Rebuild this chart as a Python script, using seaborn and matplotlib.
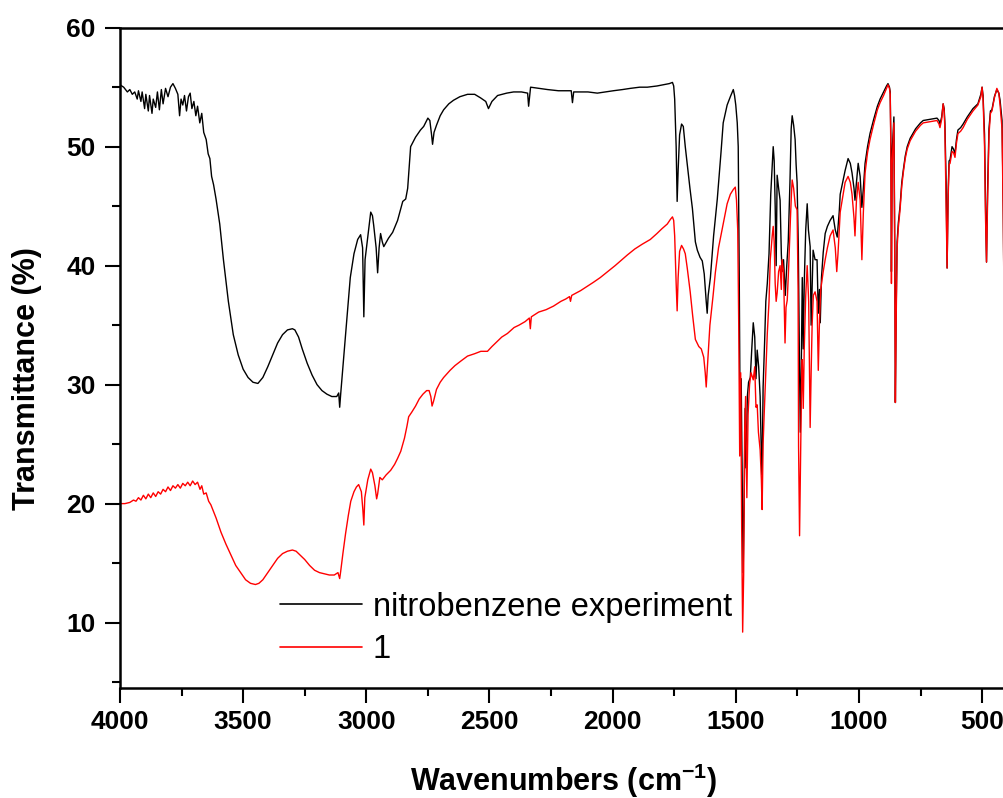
import matplotlib
matplotlib.use("Agg")
import matplotlib.pyplot as plt
from matplotlib.ticker import MultipleLocator
from matplotlib.lines import Line2D
import pandas as pd
import seaborn as sns

# FT-IR spectrum of nitrobenzene (reference measurement)
wn_ref = [4000, 3985, 3970, 3960, 3950, 3940, 3930, 3925, 3915, 3910, 3900, 3895, 3885, 3880,
          3870, 3865, 3855, 3848, 3840, 3832, 3825, 3815, 3805, 3795, 3785, 3775, 3765, 3758,
          3752, 3745, 3738, 3730, 3722, 3715, 3708, 3700, 3692, 3685, 3676, 3668, 3660, 3650,
          3642, 3635, 3628, 3620, 3610, 3595, 3580, 3560, 3540, 3520, 3500, 3480, 3460, 3440,
          3420, 3400, 3380, 3360, 3340, 3320, 3300, 3290, 3275, 3260, 3240, 3220, 3200, 3180,
          3160, 3140, 3120, 3112, 3108, 3104, 3095, 3085, 3075, 3065, 3050, 3035, 3023, 3015,
          3010, 3005, 2994, 2982, 2975, 2970, 2960, 2954, 2948, 2942, 2935, 2929, 2910, 2893,
          2873, 2860, 2852, 2840, 2832, 2825, 2820, 2800, 2780, 2767, 2750, 2742, 2735, 2731,
          2725, 2715, 2700, 2686, 2665, 2646, 2620, 2589, 2560, 2536, 2515, 2504, 2490, 2467,
          2430, 2402, 2370, 2345, 2341, 2336, 2333, 2300, 2264, 2220, 2168, 2163, 2158, 2100,
          2062, 2030, 1997, 1960, 1928, 1890, 1859, 1820, 1794, 1770, 1757, 1752, 1748, 1742,
          1738, 1734, 1728, 1720, 1713, 1705, 1697, 1686, 1676, 1664, 1656, 1645, 1636, 1628,
          1620, 1616, 1612, 1603, 1590, 1575, 1560, 1551, 1535, 1522, 1510, 1505, 1500, 1494,
          1490, 1486, 1482, 1478, 1474, 1470, 1466, 1462, 1458, 1453, 1448, 1441, 1435, 1429,
          1423, 1418, 1413, 1407, 1401, 1397, 1393, 1389, 1383, 1378, 1372, 1365, 1358, 1352,
          1348, 1344, 1340, 1336, 1332, 1326, 1320, 1315, 1312, 1306, 1299, 1293, 1287, 1280,
          1275, 1271, 1265, 1259, 1255, 1251, 1246, 1242, 1238, 1234, 1230, 1226, 1222, 1216,
          1210, 1205, 1198, 1194, 1190, 1186, 1178, 1170, 1165, 1160, 1157, 1152, 1145, 1137,
          1128, 1117, 1105, 1096, 1088, 1080, 1076, 1068, 1056, 1044, 1035, 1028, 1020, 1016,
          1010, 1003, 995, 988, 982, 975, 965, 955, 940, 925, 914, 900, 888, 882, 876, 873,
          870, 868, 865, 858, 854, 852, 849, 845, 840, 833, 826, 820, 812, 804, 792, 770, 750,
          739, 710, 683, 675, 671, 664, 658, 654, 651, 646, 642, 638, 634, 630, 622, 616, 610,
          604, 598, 587, 577, 560, 537, 517, 505, 500, 496, 490, 486, 482, 478, 472, 466, 460,
          450, 440, 432, 427, 419, 414, 411, 404]
t_ref = [55.2, 55.0, 54.6, 54.8, 54.4, 54.6, 54.0, 54.7, 53.8, 54.6, 53.2, 54.4, 53.0, 54.3,
         52.8, 54.0, 53.3, 54.6, 53.1, 54.8, 53.6, 54.9, 54.2, 55.0, 55.3, 54.9, 54.4, 52.6,
         54.0, 53.5, 54.3, 53.0, 54.2, 54.5, 53.2, 53.8, 52.6, 53.4, 52.0, 52.8, 51.2, 50.6,
         49.4, 49.0, 47.5, 46.8, 45.6, 43.5, 40.5, 37.0, 34.2, 32.5, 31.3, 30.6, 30.2, 30.1,
         30.6, 31.5, 32.5, 33.5, 34.2, 34.6, 34.7, 34.6, 34.0, 33.0, 31.8, 30.8, 30.0, 29.5,
         29.2, 29.0, 29.0, 29.3, 28.1, 29.2, 31.5, 34.0, 36.5, 39.0, 41.0, 42.2, 42.6, 41.5,
         35.7, 40.5, 42.4, 44.5, 44.2, 43.4, 41.5, 39.4, 41.5, 42.7, 42.0, 41.6, 42.3, 42.8,
         43.8, 44.8, 45.4, 45.6, 46.5, 48.5, 50.0, 50.8, 51.4, 51.7, 52.4, 52.2, 51.0, 50.2,
         51.2, 51.8, 52.6, 53.1, 53.6, 53.9, 54.2, 54.4, 54.4, 54.1, 53.8, 53.2, 53.8, 54.3,
         54.5, 54.6, 54.6, 54.5, 53.4, 54.4, 55.0, 54.9, 54.8, 54.7, 54.7, 53.7, 54.6, 54.6,
         54.5, 54.6, 54.7, 54.8, 54.9, 55.0, 55.0, 55.1, 55.2, 55.3, 55.4, 55.1, 54.0, 50.0,
         45.4, 48.0, 51.0, 51.9, 51.7, 50.0, 48.5, 46.5, 44.8, 42.0, 41.3, 40.7, 40.4, 39.3,
         37.0, 36.0, 37.5, 39.0, 42.5, 45.6, 49.5, 52.0, 53.5, 54.2, 54.8, 54.3, 53.5, 52.0,
         50.0, 39.5, 26.0, 30.5, 22.0, 14.2, 20.0, 28.0, 23.0, 29.0, 30.2, 30.6, 33.0, 35.2,
         34.0, 30.5, 32.9, 31.5, 29.0, 25.0, 22.4, 29.8, 33.5, 37.0, 38.5, 41.0, 46.0, 48.5,
         50.0, 48.8, 45.0, 40.0, 47.6, 46.5, 45.5, 41.0, 39.5, 40.5, 37.5, 40.0, 42.0, 47.0,
         51.5, 52.6, 51.8, 50.6, 48.5, 47.0, 41.5, 33.0, 26.0, 31.5, 39.0, 33.0, 38.5, 43.0,
         45.2, 43.0, 41.6, 35.0, 38.0, 41.3, 40.5, 40.5, 36.0, 38.0, 35.2, 39.0, 41.1, 42.7,
         43.3, 43.8, 44.2, 43.0, 42.4, 44.5, 46.0, 46.8, 48.0, 49.0, 48.6, 47.8, 46.5, 45.5,
         47.0, 48.6, 47.5, 44.9, 46.5, 48.6, 50.0, 51.1, 52.3, 53.4, 54.0, 54.6, 55.1, 55.3,
         55.0, 54.6, 50.0, 39.5, 49.5, 52.5, 40.0, 28.5, 36.0, 42.0, 43.6, 45.0, 47.0, 48.0,
         49.2, 50.0, 50.7, 51.5, 52.0, 52.2, 52.3, 52.4, 52.2, 51.9, 52.5, 53.6, 53.2, 52.0,
         47.0, 39.8, 46.0, 48.8, 48.9, 50.0, 49.8, 49.4, 50.6, 51.4, 51.6, 51.9, 52.5, 53.2,
         53.6, 54.4, 55.0, 54.3, 51.0, 45.0, 40.3, 46.0, 51.5, 53.0, 53.1, 54.2, 54.8, 54.5,
         53.9, 52.2, 45.0, 37.0, 36.5]

# FT-IR spectrum of compound 1
wn_1 = [4000, 3980, 3960, 3945, 3935, 3925, 3915, 3905, 3895, 3885, 3875, 3865, 3855, 3845,
        3835, 3825, 3815, 3805, 3795, 3785, 3775, 3765, 3755, 3745, 3735, 3725, 3715, 3705,
        3695, 3685, 3675, 3668, 3660, 3650, 3640, 3631, 3610, 3590, 3570, 3550, 3530, 3510,
        3490, 3470, 3450, 3436, 3420, 3400, 3380, 3360, 3340, 3320, 3300, 3285, 3270, 3250,
        3230, 3210, 3190, 3170, 3150, 3130, 3115, 3108, 3104, 3095, 3084, 3073, 3063, 3050,
        3040, 3031, 3020, 3014, 3010, 3006, 2994, 2982, 2975, 2965, 2958, 2954, 2945, 2935,
        2920, 2901, 2885, 2873, 2860, 2845, 2835, 2828, 2815, 2800, 2785, 2770, 2755, 2745,
        2738, 2733, 2727, 2715, 2700, 2686, 2660, 2640, 2615, 2589, 2560, 2535, 2508, 2490,
        2470, 2450, 2427, 2400, 2380, 2355, 2338, 2334, 2330, 2300, 2270, 2240, 2210, 2190,
        2175, 2171, 2166, 2130, 2100, 2078, 2050, 2020, 1990, 1968, 1940, 1910, 1880, 1847,
        1820, 1800, 1778, 1765, 1757, 1752, 1748, 1742, 1738, 1734, 1728, 1720, 1712, 1705,
        1697, 1685, 1675, 1664, 1650, 1640, 1630, 1624, 1620, 1615, 1605, 1592, 1583, 1570,
        1551, 1535, 1522, 1510, 1502, 1497, 1492, 1488, 1484, 1480, 1476, 1472, 1468, 1464,
        1460, 1455, 1450, 1444, 1438, 1432, 1429, 1423, 1418, 1413, 1408, 1401, 1396, 1393,
        1389, 1385, 1378, 1372, 1365, 1360, 1352, 1348, 1344, 1340, 1336, 1332, 1326, 1320,
        1315, 1312, 1306, 1300, 1296, 1291, 1285, 1278, 1274, 1271, 1265, 1258, 1251, 1247,
        1245, 1241, 1237, 1233, 1230, 1226, 1222, 1216, 1210, 1204, 1198, 1194, 1190, 1185,
        1178, 1170, 1165, 1160, 1155, 1145, 1137, 1128, 1117, 1105, 1096, 1090, 1085, 1076,
        1068, 1056, 1044, 1035, 1028, 1020, 1016, 1010, 1003, 995, 988, 982, 975, 965, 955,
        940, 925, 914, 900, 888, 882, 876, 873, 870, 868, 865, 858, 854, 852, 849, 845, 840,
        833, 826, 820, 812, 804, 792, 770, 750, 739, 710, 683, 675, 671, 664, 658, 654, 651,
        646, 642, 638, 634, 630, 622, 616, 610, 604, 598, 587, 577, 560, 537, 517, 505, 500,
        496, 490, 486, 482, 478, 472, 466, 460, 450, 440, 432, 427, 419, 414, 411, 404]
t_1 = [20.0, 20.0, 20.1, 20.3, 20.2, 20.5, 20.3, 20.7, 20.4, 20.8, 20.5, 20.9, 20.6, 21.0,
       20.8, 21.2, 21.0, 21.4, 21.1, 21.5, 21.3, 21.6, 21.3, 21.7, 21.5, 21.8, 21.5, 21.9,
       21.6, 21.8, 21.2, 21.5, 20.8, 20.9, 20.2, 19.9, 18.8, 17.6, 16.6, 15.7, 14.8, 14.2,
       13.6, 13.3, 13.2, 13.3, 13.6, 14.2, 14.8, 15.4, 15.8, 16.0, 16.1, 16.0, 15.7, 15.3,
       14.8, 14.4, 14.2, 14.1, 14.0, 14.0, 14.2, 13.7, 14.3, 15.8, 17.5, 19.0, 20.2, 21.0,
       21.4, 21.6, 21.0, 19.5, 18.2, 20.5, 22.0, 22.9, 22.6, 21.5, 20.4, 20.8, 22.2, 22.0,
       22.4, 22.8, 23.3, 23.8, 24.4, 25.5, 26.5, 27.3, 27.7, 28.2, 28.8, 29.2, 29.5, 29.5,
       29.0, 28.2, 28.6, 29.6, 30.2, 30.6, 31.2, 31.6, 32.0, 32.4, 32.6, 32.8, 32.8, 33.2,
       33.6, 34.0, 34.3, 34.8, 35.0, 35.3, 35.6, 34.7, 35.7, 36.1, 36.3, 36.6, 37.0, 37.2,
       37.4, 37.0, 37.5, 37.9, 38.3, 38.6, 39.0, 39.5, 40.0, 40.4, 40.9, 41.4, 41.8, 42.2,
       42.7, 43.1, 43.5, 43.9, 44.1, 43.8, 42.5, 38.5, 36.2, 39.0, 41.2, 41.7, 41.4, 41.0,
       39.8, 37.8, 35.8, 33.8, 33.2, 33.0, 32.3, 31.0, 29.8, 31.5, 35.0, 37.5, 39.4, 41.5,
       43.5, 45.2, 46.0, 46.4, 46.6, 45.5, 43.0, 35.0, 24.0, 31.0, 18.0, 9.2, 14.0, 26.0,
       29.0, 20.5, 27.5, 30.0, 31.0, 30.6, 30.4, 31.5, 28.1, 28.3, 26.0, 24.5, 22.0, 19.5,
       25.0, 27.3, 31.0, 34.3, 37.0, 40.5, 42.5, 43.3, 42.0, 38.5, 37.0, 37.7, 39.5, 40.0,
       38.0, 40.5, 39.5, 33.5, 36.5, 37.1, 40.0, 44.0, 46.0, 47.2, 46.5, 45.0, 44.7, 38.0,
       24.8, 17.3, 24.0, 30.0, 32.1, 28.0, 33.0, 37.5, 40.0, 37.0, 26.4, 31.0, 35.0, 37.5,
       37.8, 37.0, 31.2, 35.5, 38.0, 39.5, 40.5, 41.5, 42.5, 43.0, 41.5, 39.5, 41.0, 44.5,
       45.5, 47.0, 47.5, 47.0, 46.0, 44.0, 42.5, 45.5, 47.0, 45.5, 40.5, 44.5, 47.8, 49.5, 50.6,
       51.9, 53.1, 53.7, 54.3, 54.9, 55.2, 54.9, 54.4, 49.0, 38.5, 48.5, 52.0, 38.5, 28.5,
       35.0, 41.5, 43.2, 44.7, 46.7, 47.8, 49.0, 49.8, 50.5, 51.3, 51.8, 52.0, 52.1, 52.2,
       51.9, 51.6, 52.3, 53.6, 53.0, 51.5, 45.0, 39.8, 45.5, 48.5, 48.6, 49.6, 49.5, 49.1,
       50.3, 51.1, 51.3, 51.6, 52.3, 53.0, 53.5, 54.2, 55.0, 54.0, 50.0, 44.0, 40.3, 45.0,
       51.0, 52.8, 53.0, 54.1, 54.9, 54.5, 53.5, 51.5, 44.0, 37.0, 36.5]

series_names = ["nitrobenzene experiment", "1"]
series_colors = ["#000000", "#ff0000"]
x_ticks = [4000, 3500, 3000, 2500, 2000, 1500, 1000, 500]
y_ticks = [10, 20, 30, 40, 50, 60]

df = pd.concat([
    pd.DataFrame({"wavenumber": wn_ref, "transmittance": t_ref, "sample": series_names[0]}),
    pd.DataFrame({"wavenumber": wn_1, "transmittance": t_1, "sample": series_names[1]}),
], ignore_index=True)

sns.set_theme(style="ticks")
plt.rcParams["font.family"] = ["Liberation Sans", "DejaVu Sans"]
plt.rcParams["mathtext.fontset"] = "custom"
plt.rcParams["mathtext.rm"] = "Liberation Sans"
plt.rcParams["mathtext.bf"] = "Liberation Sans:bold"
for key in ["text.color", "axes.labelcolor", "xtick.color", "ytick.color", "axes.edgecolor"]:
    plt.rcParams[key] = "black"

fig = plt.figure(figsize=(10.04, 7.98), dpi=100)
ax = fig.add_axes([0.1195, 0.1378, 0.8832, 0.8275])

sns.lineplot(data=df, x="wavenumber", y="transmittance", hue="sample",
             palette=dict(zip(series_names, series_colors)), hue_order=series_names,
             sort=False, estimator=None, linewidth=1.0, ax=ax, legend=False)

ax.set_xlim(4000, 400)
ax.set_ylim(4.5, 60)
ax.set_xticks(x_ticks)
ax.set_yticks(y_ticks)
ax.xaxis.set_minor_locator(MultipleLocator(250))
ax.yaxis.set_minor_locator(MultipleLocator(5))

for side in ["left", "bottom", "top", "right"]:
    ax.spines[side].set_linewidth(1.8)
    ax.spines[side].set_color("black")

ax.tick_params(axis="both", which="major", direction="out", length=10.5, width=1.5,
               labelsize=19, color="black", labelcolor="black")
ax.tick_params(axis="both", which="minor", direction="out", length=5.5, width=1.5,
               color="black")
ax.tick_params(axis="y", which="major", pad=7)
ax.tick_params(axis="x", which="major", pad=5)
ax.tick_params(top=False, right=False, which="both")
for lab in ax.get_xticklabels() + ax.get_yticklabels():
    lab.set_fontweight("bold")

ax.set_xlabel(r"Wavenumbers (cm$^{\mathbf{-1}}$)", fontsize=22, fontweight="bold")
ax.set_ylabel("Transmittance (%)", fontsize=22, fontweight="bold")
ax.xaxis.set_label_coords(0.5, -0.14)
ax.xaxis.label.set_va("center")
ax.yaxis.set_label_coords(-0.105, 0.469)
ax.yaxis.label.set_va("center")

handles = [Line2D([], [], color=c, linewidth=1.2) for c in series_colors]
ax.legend(handles, series_names, loc="upper left", bbox_to_anchor=(0.1804, 0.146),
          frameon=False, fontsize=23.5, handlelength=2.5, handletextpad=0.35,
          labelspacing=0.36, borderpad=0, borderaxespad=0)

fig.savefig("out.png", dpi=100, facecolor="white")
